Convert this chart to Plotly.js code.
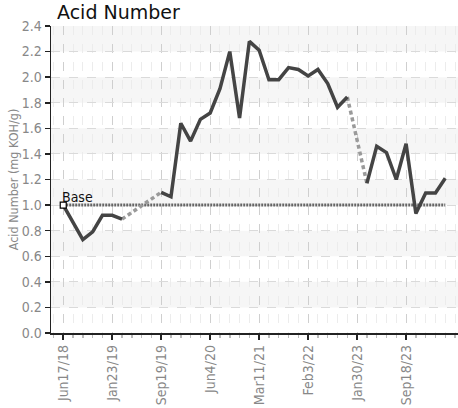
<!DOCTYPE html>
<html>
<head>
<meta charset="utf-8">
<script src="https://cdn.plot.ly/plotly-3.0.1.min.js"></script>
<style>html,body{margin:0;padding:0;background:#fff;}#chart{width:458px;height:408px;}</style>
</head>
<body>
<div id="chart"></div>
<script>
// ---- data ----
var sampleIndex = [0,1,2,3,4,5,6,7,8,9,10,11,12,13,14,15,16,17,18,19,20,21,22,23,24,25,26,27,28,29,30,31,32,33,34,35,36,37,38,39];
var acidNumber = [1.00,0.865,0.73,0.79,0.92,0.92,0.89,null,null,null,
                  1.10,1.065,1.64,1.50,1.67,1.72,1.91,2.20,1.68,2.28,
                  2.21,1.98,1.98,2.075,2.06,2.01,2.06,1.95,1.765,1.845,
                  null,1.17,1.46,1.41,1.20,1.48,0.935,1.095,1.095,1.21];
var tickPositions = [0,5,10,15,20,25,30,35];
var tickLabels = ["Jun17/18","Jan23/19","Sep19/19","Jun4/20","Mar11/21","Feb3/22","Jan30/23","Sep18/23"];
var baseValue = 1.0;
var baseLabel = "Base";
var yTicks = [0,0.2,0.4,0.6,0.8,1.0,1.2,1.4,1.6,1.8,2.0,2.2,2.4];

// dashed connectors across missing samples
var gapX = [], gapY = [];
for (var i = 1; i < acidNumber.length; i++) {
  if (acidNumber[i] === null && acidNumber[i-1] !== null) {
    var j = i;
    while (j < acidNumber.length && acidNumber[j] === null) j++;
    if (j < acidNumber.length) {
      gapX.push(sampleIndex[i-1], sampleIndex[j], null);
      gapY.push(acidNumber[i-1], acidNumber[j], null);
    }
  }
}

var narrow = "'Liberation Sans Narrow','Arial Narrow','DejaVu Sans Condensed',sans-serif";

var traces = [
  {x:[sampleIndex[0], sampleIndex[sampleIndex.length-1]], y:[baseValue, baseValue], mode:'lines',
   line:{color:'#666', width:3, dash:'2px,1px'}, hoverinfo:'skip', showlegend:false},
  {x:gapX, y:gapY, mode:'lines', line:{color:'#9a9a9a', width:3.5, dash:'4px,3px'},
   connectgaps:false, hoverinfo:'skip', showlegend:false},
  {x:sampleIndex, y:acidNumber, mode:'lines', line:{color:'#444', width:3.5},
   connectgaps:false, showlegend:false},
  {x:[sampleIndex[0]], y:[baseValue], mode:'markers',
   marker:{symbol:'square', size:6, color:'#fff', line:{color:'#000', width:1.2}}, showlegend:false}
];

var shapes = [];
for (var k = 0; k < yTicks.length - 1; k++) {
  if (k % 2 === 1) {
    shapes.push({type:'rect', xref:'paper', yref:'y', x0:0, x1:1, y0:yTicks[k], y1:yTicks[k+1],
      fillcolor:'#f6f6f6', line:{width:0}, layer:'below'});
  }
}

var layout = {
  width:458, height:408,
  margin:{l:51, r:0, t:26, b:75, pad:0},
  paper_bgcolor:'#fff', plot_bgcolor:'#fff',
  showlegend:false,
  title:{text:'Acid Number', font:{family:"'DejaVu Sans',Verdana,sans-serif", size:19, color:'#111'},
    xref:'container', x:57/458, xanchor:'left', yref:'container', y:1-19/408, yanchor:'bottom'},
  xaxis:{range:[-1.25,40.3], tickmode:'array', tickvals:tickPositions, ticktext:tickLabels,
    tickangle:-90, tickfont:{family:narrow, size:14, color:'#888'},
    showline:true, linecolor:'#222', linewidth:1.5, ticks:'outside', ticklen:5, tickcolor:'#222', tickwidth:1.5,
    showgrid:true, gridcolor:'#cfcfcf', griddash:'dash', gridwidth:1, zeroline:false,
    minor:{tick0:0, dtick:1, ticks:'outside', ticklen:3, tickcolor:'#bbb', showgrid:true, gridcolor:'#ececec', griddash:'dash'},
    fixedrange:true},
  yaxis:{range:[0,2.4], tickmode:'array', tickvals:yTicks, ticktext:yTicks.map(function(v){return v.toFixed(1);}),
    tickfont:{family:narrow, size:14, color:'#888'},
    showline:true, linecolor:'#222', linewidth:1.5, ticks:'outside', ticklen:5, tickcolor:'#222', tickwidth:1.5,
    showgrid:true, gridcolor:'#dadada', griddash:'dash', zeroline:false,
    title:{text:'Acid Number (mg KOH/g)', font:{family:narrow, size:12.5, color:'#888'}, standoff:0},
    fixedrange:true},
  shapes:shapes,
  annotations:[{x:sampleIndex[0], y:baseValue, xref:'x', yref:'y', text:baseLabel, showarrow:false,
    xanchor:'left', yanchor:'bottom', xshift:-3, yshift:-2, font:{family:narrow, size:14, color:'#111'}}]
};

Plotly.newPlot('chart', traces, layout, {displayModeBar:false, staticPlot:true});
</script>
</body>
</html>
